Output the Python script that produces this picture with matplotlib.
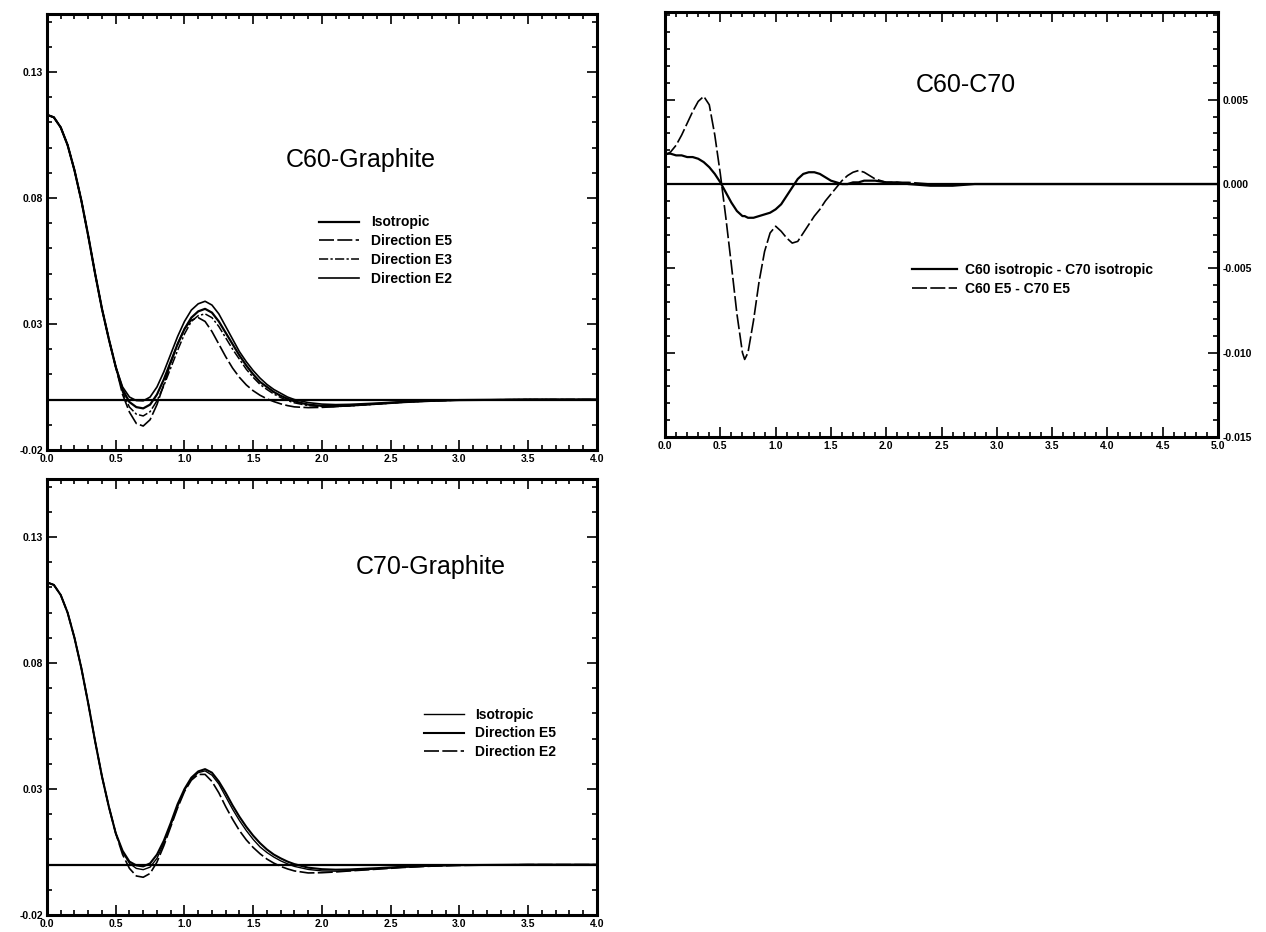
import matplotlib
matplotlib.use("Agg")
import matplotlib.pyplot as plt
import matplotlib.ticker as tkr

plt.rcParams['font.family'] = ['Liberation Sans', 'DejaVu Sans']

# ---- C60-Graphite ----
x_tl = [0.0, 0.05, 0.1, 0.15, 0.2, 0.25, 0.3, 0.35, 0.4, 0.45, 0.5, 0.55, 0.6, 0.65,
        0.7, 0.75, 0.8, 0.85, 0.9, 0.95, 1.0, 1.05, 1.1, 1.15, 1.2, 1.25, 1.3, 1.35,
        1.4, 1.45, 1.5, 1.55, 1.6, 1.65, 1.7, 1.75, 1.8, 1.9, 2.0, 2.1, 2.2, 2.4,
        2.6, 2.8, 3.0, 3.5, 4.0]
head_tl = [0.113, 0.112, 0.108, 0.101, 0.091, 0.079, 0.065, 0.050, 0.036, 0.024, 0.013]
c60_iso = head_tl + [0.004, -0.001, -0.003, -0.0035, -0.002, 0.002, 0.008, 0.015, 0.022,
                     0.028, 0.0325, 0.035, 0.036, 0.0345, 0.031, 0.0265, 0.022, 0.0175,
                     0.0135, 0.010, 0.007, 0.005, 0.003, 0.0015, 0.0003, -0.0007, -0.002,
                     -0.0025, -0.0026, -0.0024, -0.0017, -0.001, -0.0005, -0.0002, 0.0, 0.0]
c60_e5 = head_tl + [0.002, -0.005, -0.0095, -0.0105, -0.008, -0.002, 0.006, 0.0145, 0.022,
                    0.028, 0.0315, 0.0325, 0.031, 0.027, 0.022, 0.017, 0.0125, 0.0088,
                    0.0058, 0.0035, 0.0017, 0.0003, -0.0008, -0.0017, -0.0024, -0.0029,
                    -0.0032, -0.0031, -0.0028, -0.0024, -0.0017, -0.001, -0.0005, -0.0002,
                    0.0, 0.0]
c60_e3 = head_tl + [0.003, -0.003, -0.0058, -0.0065, -0.0048, -0.0005, 0.0055, 0.0125,
                    0.0195, 0.026, 0.031, 0.0333, 0.034, 0.0325, 0.029, 0.0245, 0.020,
                    0.016, 0.012, 0.0088, 0.006, 0.004, 0.0022, 0.0008, -0.0004, -0.0013,
                    -0.0024, -0.0028, -0.0028, -0.0025, -0.0018, -0.001, -0.0005, -0.0002,
                    0.0, 0.0]
c60_e2 = head_tl + [0.005, 0.001, -0.0004, -0.0005, 0.001, 0.005, 0.011, 0.018, 0.025,
                    0.031, 0.0355, 0.038, 0.039, 0.0375, 0.034, 0.029, 0.024, 0.019,
                    0.015, 0.0115, 0.0085, 0.006, 0.004, 0.0025, 0.001, 0.0, -0.0012,
                    -0.0018, -0.002, -0.0019, -0.0014, -0.0008, -0.0004, -0.0002, 0.0, 0.0]

# ---- C70-Graphite ----
head_bl = [0.112, 0.111, 0.107, 0.100, 0.090, 0.078, 0.064, 0.049, 0.035, 0.023, 0.0125]
c70_iso = head_bl + [0.005, 0.0005, -0.0015, -0.002, -0.001, 0.0025, 0.0085, 0.0155, 0.023,
                     0.0295, 0.034, 0.0365, 0.0372, 0.0355, 0.032, 0.027, 0.022, 0.0175,
                     0.0135, 0.010, 0.007, 0.0048, 0.003, 0.0015, 0.0003, -0.0007, -0.0019,
                     -0.0025, -0.0026, -0.0024, -0.0017, -0.001, -0.0005, -0.0002, 0.0, 0.0]
c70_e5 = head_bl + [0.0055, 0.0012, -0.0003, -0.0007, 0.0005, 0.004, 0.0095, 0.0165, 0.024,
                    0.030, 0.0345, 0.037, 0.0379, 0.0365, 0.033, 0.0285, 0.0235, 0.019,
                    0.015, 0.0115, 0.0085, 0.006, 0.004, 0.0025, 0.0012, 0.0002, -0.0012,
                    -0.0018, -0.002, -0.0019, -0.0014, -0.0008, -0.0004, -0.0002, 0.0, 0.0]
c70_e2 = head_bl + [0.004, -0.0015, -0.0045, -0.005, -0.0035, 0.001, 0.0075, 0.015, 0.0225,
                    0.029, 0.0335, 0.0358, 0.0358, 0.033, 0.0285, 0.023, 0.018, 0.0135,
                    0.0098, 0.0068, 0.0043, 0.0022, 0.0006, -0.0007, -0.0017, -0.0025,
                    -0.0033, -0.0032, -0.0029, -0.0025, -0.0018, -0.0011, -0.0006, -0.0003,
                    0.0, 0.0]

# ---- C60-C70 differences ----
x_tr = [0.0, 0.05, 0.1, 0.15, 0.2, 0.25, 0.3, 0.35, 0.4, 0.45, 0.5, 0.55, 0.6, 0.65,
        0.7, 0.72, 0.75, 0.8, 0.85, 0.9, 0.95, 1.0, 1.05, 1.1, 1.15, 1.2, 1.25, 1.3,
        1.35, 1.4, 1.45, 1.5, 1.55, 1.6, 1.65, 1.7, 1.75, 1.8, 1.85, 1.9, 2.0, 2.1,
        2.2, 2.4, 2.6, 2.8, 3.0, 3.5, 4.0, 4.5, 5.0]
diff_iso = [0.0018, 0.0018, 0.0017, 0.0017, 0.0016, 0.0016, 0.0015, 0.0013, 0.0010, 0.0006,
            0.0001, -0.0005, -0.0011, -0.0016, -0.0019, -0.0019, -0.0020, -0.0020, -0.0019,
            -0.0018, -0.0017, -0.0015, -0.0012, -0.0007, -0.0002, 0.0003, 0.0006, 0.0007,
            0.0007, 0.0006, 0.0004, 0.0002, 0.0001, 0.0, 0.0, 0.0001, 0.0001, 0.0002,
            0.0002, 0.0002, 0.0001, 0.0001, 0.0, -0.0001, -0.0001, 0.0, 0.0, 0.0, 0.0,
            0.0, 0.0]
diff_e5 = [0.0017, 0.0019, 0.0023, 0.0029, 0.0036, 0.0043, 0.0049, 0.0052, 0.0047, 0.0029,
           0.0006, -0.0020, -0.0048, -0.0077, -0.0100, -0.0104, -0.0100, -0.0081, -0.0058,
           -0.0040, -0.0029, -0.0025, -0.0028, -0.0032, -0.0035, -0.0034, -0.0029, -0.0024,
           -0.0019, -0.0015, -0.0010, -0.0006, -0.0002, 0.0002, 0.0005, 0.0007, 0.0008,
           0.0007, 0.0005, 0.0003, 0.0001, 0.0001, 0.0001, 0.0, 0.0, 0.0, 0.0, 0.0, 0.0,
           0.0, 0.0]

tick_font = dict(fontsize=7.5, fontweight='bold')


def style_axes(ax, xmax, ylim, yticks, yminor, yfmt, right=False):
    ax.set_xlim(0, xmax)
    ax.set_ylim(*ylim)
    ax.xaxis.set_major_locator(tkr.MultipleLocator(0.5))
    ax.xaxis.set_minor_locator(tkr.MultipleLocator(0.1))
    ax.yaxis.set_major_locator(tkr.FixedLocator(yticks))
    ax.yaxis.set_minor_locator(tkr.MultipleLocator(yminor))
    ax.xaxis.set_major_formatter(tkr.FormatStrFormatter('%.1f'))
    ax.yaxis.set_major_formatter(tkr.FormatStrFormatter(yfmt))
    ax.tick_params(which='both', direction='in', top=True, right=True,
                   width=1.2, pad=3)
    ax.tick_params(which='major', length=7)
    ax.tick_params(which='minor', length=3.5)
    if right:
        ax.tick_params(axis='y', labelleft=False, labelright=True)
    for lab in ax.get_xticklabels() + ax.get_yticklabels():
        lab.set_fontsize(tick_font['fontsize'])
        lab.set_fontweight(tick_font['fontweight'])
    for sp in ax.spines.values():
        sp.set_linewidth(2.2)
    ax.axhline(0, color='black', lw=1.6)


fig = plt.figure(figsize=(12.66, 9.32), dpi=100)

# top left
ax1 = fig.add_axes([0.0371, 0.5172, 0.4344, 0.4678])
ax1.plot(x_tl, c60_iso, color='black', lw=1.6, label='Isotropic')
ax1.plot(x_tl, c60_e5, color='black', lw=1.2, dashes=(9, 2), label='Direction E5')
ax1.plot(x_tl, c60_e3, color='black', lw=1.1, dashes=(6, 1.5, 1.5, 1.5), label='Direction E3')
ax1.plot(x_tl, c60_e2, color='black', lw=1.2, label='Direction E2')
style_axes(ax1, 4.0, (-0.02, 0.153), [-0.02, 0.03, 0.08, 0.13], 0.01, '%.2f')
ax1.text(2.28, 0.095, 'C60-Graphite', fontsize=18, ha='center', va='center')
ax1.legend(loc='upper left', bbox_to_anchor=(0.494, 0.538), frameon=False,
           borderpad=0, borderaxespad=0, handlelength=2.9, handletextpad=0.9,
           labelspacing=0.35, prop={'size': 10, 'weight': 'bold'})

# bottom left
ax2 = fig.add_axes([0.0371, 0.0182, 0.4344, 0.4678])
ax2.plot(x_tl, c70_iso, color='black', lw=1.0, label='Isotropic')
ax2.plot(x_tl, c70_e5, color='black', lw=1.5, label='Direction E5')
ax2.plot(x_tl, c70_e2, color='black', lw=1.2, dashes=(9, 2), label='Direction E2')
style_axes(ax2, 4.0, (-0.02, 0.153), [-0.02, 0.03, 0.08, 0.13], 0.01, '%.2f')
ax2.text(2.79, 0.118, 'C70-Graphite', fontsize=18, ha='center', va='center')
ax2.legend(loc='upper left', bbox_to_anchor=(0.685, 0.476), frameon=False,
           borderpad=0, borderaxespad=0, handlelength=2.9, handletextpad=0.8,
           labelspacing=0.35, prop={'size': 10, 'weight': 'bold'})

# top right
ax3 = fig.add_axes([0.5253, 0.5311, 0.4368, 0.456])
ax3.plot(x_tr, diff_iso, color='black', lw=1.6, label='C60 isotropic - C70 isotropic')
ax3.plot(x_tr, diff_e5, color='black', lw=1.2, dashes=(9, 2), label='C60 E5 - C70 E5')
style_axes(ax3, 5.0, (-0.015, 0.0102), [-0.015, -0.010, -0.005, 0.0, 0.005], 0.001,
           '%.3f', right=True)
ax3.text(2.72, 0.0059, 'C60-C70', fontsize=18, ha='center', va='center')
ax3.legend(loc='upper left', bbox_to_anchor=(0.447, 0.41), frameon=False,
           borderpad=0, borderaxespad=0, handlelength=3.2, handletextpad=0.6,
           labelspacing=0.35, prop={'size': 10, 'weight': 'bold'})

plt.savefig("out.png", dpi=100)
